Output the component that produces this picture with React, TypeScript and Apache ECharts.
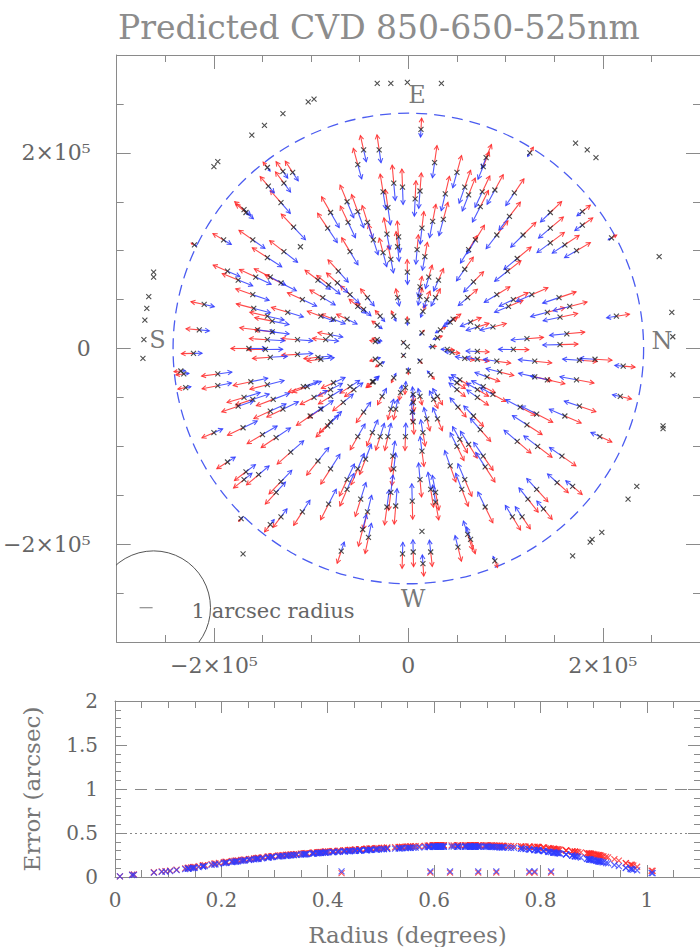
import React, { useEffect, useRef } from 'react';
import * as echarts from 'echarts';

// ---------- data (positions in units of 1000) ----------
const STAR_X_K = [
  -46,-30,-52,-145,-129,-119,-144,-128,-15,-26,-131,-63,-21,-169,-167,-80,-52,-118,-42,-62,-83,-190,-160,-22,-36,-11,-128,-60,-26,-145,-18,-72,-93,-186,-157,-175,-142,-131,-82,-160,-109,-60,-42,-210,-159,-145,-140,-124,-90,-77,-46,-32,-215,-140,-80,-15,-11,-220,
  -155,-145,-114,-34,-164,-147,-142,-114,-93,-221,-234,-231,-196,-229,-196,-162,-145,-108,-80,-60,-36,-169,-160,-139,-97,-80,-175,-142,-129,-101,-90,-46,-27,-200,-170,-150,-136,-121,-83,-52,-37,-21,-186,-167,-169,-154,-131,-136,-93,-80,-63,-52,-44,-16,-15,-142,-131,-109,-82,-63,-49,-42,-47,-41,-22,-172,-69,
  13,27,80,125,-6,12,7,38,50,58,62,77,76,74,89,109,25,36,14,-10,91,104,118,146,146,179,179,146,161,173,209,69,62,58,112,102,67,61,9,17,-1,21,31,12,28,91,108,127,155,166,214,103,143,156,43,71,87,-29,-1,
  163,156,122,108,176,192,221,173,143,130,94,130,91,71,58,45,218,176,161,132,115,87,77,71,53,50,51,30,14,-5,-5,12,23,0,-15,197,158,169,153,133,132,123,139,107,117,112,122,74,77,79,53,50,62,43,58,55,79,26,19,15,5,4,5,-13,-3,-3,14,12,-18,-13,4,23,28,28,51,61,64,-6,5,23,15,89,
  12,19,15,-52,-73,-88,-63,-32,-34,-29,-1,25,33,46,64,40,71,-37,-56,-77,-104,-90,-85,-8,12,30,50,71,81,67,30,5,-18,-67,-80,-29,
];
const STAR_Y_K = [
  203,203,188,185,181,180,166,169,169,160,149,150,144,142,139,139,140,124,129,129,123,111,111,117,111,104,99,99,98,93,91,79,70,79,73,70,73,67,65,55,50,55,52,45,41,33,28,37,33,30,40,24,19,17,14,33,52,106,
  19,9,9,7,0,-1,-9,-6,-9,-5,-23,-26,-26,-40,-38,-34,-37,-39,-42,-39,-34,-50,-52,-52,-50,-49,-59,-64,-62,-69,-62,-65,-49,-86,-81,-88,-91,-106,-79,-90,-86,-90,-116,-126,-134,-129,-136,-147,-115,-123,-134,-123,-113,-110,-123,-180,-172,-167,-159,-144,-154,-167,-185,-193,-162,-174,-207,
  224,190,195,200,165,161,153,158,180,165,157,186,160,145,162,159,130,132,123,114,116,135,116,139,123,140,126,108,106,100,113,111,101,81,92,79,68,52,101,94,78,73,70,53,52,55,50,55,52,43,33,43,37,32,27,22,22,33,28,
  15,4,10,-1,-12,-11,-18,-32,-32,-29,-24,-13,-13,-11,-10,-4,-49,-59,-69,-67,-60,-47,-39,-50,-32,-42,-60,11,16,6,-7,-13,-27,-23,-30,-90,-110,-141,-137,-100,-144,-154,-164,-172,-172,-95,-78,-83,-110,-121,-93,-100,-98,-120,-134,-144,-162,-52,-72,-86,-55,-65,-47,-62,-40,-90,-105,-134,-147,-161,-156,-144,-147,-157,-203,-190,-195,-210,-208,-208,-220,-217,
  63,50,38,43,67,52,30,9,-11,-16,2,2,19,30,27,-1,-3,-34,-42,-35,-39,-11,9,-45,-49,-49,-35,-42,-29,-69,-72,-75,-62,-55,-75,-90,
];
// stars whose vectors are too small to see
const QUIET_X_K = [-111, 14];
const QUIET_Y_K = [104, -187];
// stars outside the field (no vectors)
const OUTER_X_K = [-32,-18,-1,34,-103,-97,-129,-148,-161,-196,-200,-262,-262,-267,-269,-271,-272,-273,-170,172,184,193,258,271,272,272,262,262,235,226,199,187,189,169];
const OUTER_Y_K = [271,271,272,271,252,255,240,228,218,191,186,78,73,53,41,29,9,-10,-210,210,203,195,94,37,12,-27,-79,-82,-141,-154,-188,-198,-195,-212];

// error curve (arcsec vs degrees)
const ERR_R = [0, 0.05, 0.1, 0.15, 0.2, 0.3, 0.4, 0.5, 0.6, 0.7, 0.75, 0.8, 0.85, 0.9, 0.93, 0.97, 1.0, 1.03];
const ERR_RED = [0, 0.04, 0.07, 0.115, 0.165, 0.24, 0.29, 0.33, 0.36, 0.36, 0.35, 0.34, 0.30, 0.26, 0.22, 0.14, 0.08, 0.05];
const ERR_BLUE = [0, 0.035, 0.065, 0.105, 0.155, 0.23, 0.28, 0.315, 0.345, 0.345, 0.33, 0.30, 0.255, 0.19, 0.15, 0.09, 0.05, 0.035];

// isolated low-error points in the lower panel
const LOW_R = [0.426, 0.593, 0.63, 0.683, 0.717, 0.779, 0.789, 0.82];
const LOW_ERR_RED = [0.045, 0.05, 0.05, 0.05, 0.05, 0.05, 0.05, 0.05];
const LOW_ERR_BLUE = [0.065, 0.065, 0.065, 0.065, 0.065, 0.065, 0.065, 0.065];

const COMPASS = ['E', 'W', 'S', 'N'];
const COMPASS_X_K = [9, 5, -258, 261];
const COMPASS_Y_K = [259, -256, 9, 8];

const TOP_TICKS = [-200000, 0, 200000];
const BOT_X_TICKS = [0, 0.2, 0.4, 0.6, 0.8, 1];
const BOT_Y_TICKS = [0, 0.5, 1, 1.5, 2];

const K = 1000;
const DEG_UNITS = 242000;          // focal-plane units per degree
const ARROW_UNITS = 51300;         // vector scale, units per arcsec
const FIELD_RADIUS_DEG = 1;
const LEGEND_CENTER_K = [-262, -265];
const LEGEND_RADIUS_UNITS = 58500;

const RED = '#ff2a2a';
const BLUE = '#2f3cff';
const FRAME = '#8a8a8a';
const LABEL = '#666';
const FONT = '"DejaVu Serif", serif';

function lookup(r: number, ys: number[]) {
  if (r <= ERR_R[0]) return ys[0];
  for (let i = 1; i < ERR_R.length; i++) {
    if (r <= ERR_R[i]) {
      const t = (r - ERR_R[i - 1]) / (ERR_R[i] - ERR_R[i - 1]);
      return ys[i - 1] + t * (ys[i] - ys[i - 1]);
    }
  }
  return ys[ys.length - 1];
}

const CROSS = 'path://M0,0L10,10M10,0L0,10';

function arrowRenderer(color: string) {
  return (params: any, api: any) => {
    const p0 = api.coord([api.value(0), api.value(1)]);
    const p1 = api.coord([api.value(2), api.value(3)]);
    const dx = p1[0] - p0[0];
    const dy = p1[1] - p0[1];
    const len = Math.hypot(dx, dy);
    if (len < 0.8) return null;
    const ux = dx / len, uy = dy / len;
    const h = Math.min(4.2, len * 0.5);
    const w = h * 0.55;
    const a = [p1[0] - ux * h - uy * w, p1[1] - uy * h + ux * w];
    const b = [p1[0] - ux * h + uy * w, p1[1] - uy * h - ux * w];
    return {
      type: 'group',
      children: [
        { type: 'line', shape: { x1: p0[0], y1: p0[1], x2: p1[0], y2: p1[1] }, style: { stroke: color, lineWidth: 1.1, opacity: 0.85 } },
        { type: 'polyline', shape: { points: [a, p1, b] }, style: { stroke: color, fill: 'none', lineWidth: 1.1, opacity: 0.85 } },
      ],
    };
  };
}

function frameAxes(kind: 'x' | 'y', gridIndex: number, min: number, max: number, step: number, majors: number[],
  fmt: (v: number) => string, labelSize: number, margin: number, name?: string, nameGap?: number, majorLen = 14, minorLen = 7) {
  const primary = kind === 'x' ? 'bottom' : 'left';
  const opposite = kind === 'x' ? 'top' : 'right';
  const base = { type: 'value', gridIndex, min, max, interval: step, splitLine: { show: false }, scale: false };
  const minor = (position: string) => ({
    ...base, position,
    axisLine: { show: true, onZero: false, lineStyle: { color: FRAME, width: 1 } },
    axisTick: { show: true, inside: true, length: minorLen, lineStyle: { color: FRAME, width: 1 } },
    axisLabel: { show: false },
  });
  const major = (position: string, withLabels: boolean) => ({
    ...base, position,
    axisLine: { show: false, onZero: false },
    axisTick: { show: true, inside: true, length: majorLen, customValues: majors, lineStyle: { color: FRAME, width: 1 } },
    axisLabel: withLabels
      ? { show: true, customValues: majors, formatter: fmt, color: LABEL, fontFamily: FONT, fontSize: labelSize, margin }
      : { show: false },
    ...(withLabels && name ? {
      name, nameLocation: 'middle', nameGap,
      nameTextStyle: { color: '#777', fontFamily: FONT, fontSize: 23 },
    } : {}),
  });
  return [minor(primary), major(primary, true), minor(opposite), major(opposite, false)];
}

function topFmt(v: number) {
  if (v === 0) return '0';
  return (v < 0 ? '\u22122' : '2') + '\u00d710\u2075';
}

export default function App() {
  const ref = useRef<HTMLDivElement>(null);
  useEffect(() => {
    if (!ref.current) return;
    const chart = echarts.init(ref.current, undefined, { renderer: 'svg' });

    const redArrows: number[][] = [];
    const blueArrows: number[][] = [];
    const redErr: number[][] = [];
    const blueErr: number[][] = [];
    STAR_X_K.forEach((xk, i) => {
      const x = xk * K, y = STAR_Y_K[i] * K;
      const r = Math.hypot(x, y);
      const rdeg = r / DEG_UNITS;
      const eR = lookup(rdeg, ERR_RED);
      const eB = lookup(rdeg, ERR_BLUE);
      const ux = r > 0 ? x / r : 0, uy = r > 0 ? y / r : 0;
      redArrows.push([x, y, x + ux * eR * ARROW_UNITS, y + uy * eR * ARROW_UNITS]);
      blueArrows.push([x, y, x - ux * eB * ARROW_UNITS, y - uy * eB * ARROW_UNITS]);
      redErr.push([rdeg, eR]);
      blueErr.push([rdeg, eB]);
    });
    LOW_R.forEach((r, i) => {
      redErr.push([r, LOW_ERR_RED[i]]);
      blueErr.push([r, LOW_ERR_BLUE[i]]);
    });
    const starPts = STAR_X_K.map((x, i) => [x * K, STAR_Y_K[i] * K])
      .concat(QUIET_X_K.map((x, i) => [x * K, QUIET_Y_K[i] * K]))
      .concat(OUTER_X_K.map((x, i) => [x * K, OUTER_Y_K[i] * K]));

    const xTop = frameAxes('x', 0, -300000, 300000, 50000, TOP_TICKS, topFmt, 22, 12);
    const yTop = frameAxes('y', 0, -300000, 300000, 50000, TOP_TICKS, topFmt, 22, 26);
    const xBot = frameAxes('x', 1, 0, 1.1, 0.05, BOT_X_TICKS, (v) => String(v), 20, 13, 'Radius (degrees)', 46, 12, 7);
    const yBot = frameAxes('y', 1, 0, 2, 0.1, BOT_Y_TICKS, (v) => String(v), 20, 17, 'Error (arcsec)', 72, 12, 6);

    chart.setOption({
      animation: false,
      backgroundColor: '#fff',
      title: {
        text: 'Predicted CVD 850-650-525nm', left: 113, top: 6,
        textStyle: { color: '#8c8c8c', fontFamily: FONT, fontSize: 33, fontWeight: 'normal' },
      },
      grid: [
        { left: 115, top: 55, width: 586, height: 587 },
        { left: 115, top: 701, width: 591, height: 176 },
      ],
      xAxis: [...xTop, ...xBot],
      yAxis: [...yTop, ...yBot],
      series: [
        {
          type: 'custom', name: 'field', xAxisIndex: 0, yAxisIndex: 0, z: 1,
          data: [[0, 0]],
          renderItem: (params: any, api: any) => {
            const c = api.coord([api.value(0), api.value(1)]);
            const r = api.size([FIELD_RADIUS_DEG * DEG_UNITS, 0])[0];
            return { type: 'circle', shape: { cx: c[0], cy: c[1], r }, style: { fill: 'none', stroke: '#4b5cf0', lineWidth: 1.3, lineDash: [11, 7] } };
          },
        },
        {
          type: 'custom', name: 'legend', xAxisIndex: 0, yAxisIndex: 0, clip: true, z: 1,
          data: [[LEGEND_CENTER_K[0] * K, LEGEND_CENTER_K[1] * K]],
          renderItem: (params: any, api: any) => {
            const c = api.coord([api.value(0), api.value(1)]);
            const r = api.size([LEGEND_RADIUS_UNITS, 0])[0];
            return {
              type: 'group',
              children: [
                { type: 'circle', shape: { cx: c[0], cy: c[1], r }, style: { fill: 'none', stroke: '#555', lineWidth: 1 } },
                { type: 'line', shape: { x1: c[0] - 14, y1: c[1], x2: c[0] - 1, y2: c[1] }, style: { stroke: '#777', lineWidth: 1 } },
                { type: 'text', style: { x: c[0] + 38, y: c[1] + 3, text: '1 arcsec radius', fill: '#666', font: '21px "DejaVu Serif"', verticalAlign: 'middle', align: 'left' } },
              ],
            };
          },
        },
        { type: 'custom', name: '850nm', xAxisIndex: 0, yAxisIndex: 0, z: 2, data: redArrows, renderItem: arrowRenderer(RED) },
        { type: 'custom', name: '525nm', xAxisIndex: 0, yAxisIndex: 0, z: 3, data: blueArrows, renderItem: arrowRenderer(BLUE) },
        {
          type: 'scatter', name: 'stars', xAxisIndex: 0, yAxisIndex: 0, z: 4,
          symbol: CROSS, symbolSize: 5, data: starPts,
          itemStyle: { color: '#222', borderColor: '#222', borderWidth: 1.1 },
        },
        {
          type: 'scatter', name: 'compass', xAxisIndex: 0, yAxisIndex: 0, z: 5, symbolSize: 0,
          data: COMPASS.map((n, i) => ({ name: n, value: [COMPASS_X_K[i] * K, COMPASS_Y_K[i] * K] })),
          label: { show: true, position: 'inside', formatter: '{b}', color: '#555', fontFamily: FONT, fontSize: 24 },
          itemStyle: { color: 'transparent' },
        },
        {
          type: 'scatter', name: 'err850', xAxisIndex: 4, yAxisIndex: 4, z: 2,
          symbol: CROSS, symbolSize: 6, data: redErr,
          itemStyle: { color: RED, borderColor: RED, borderWidth: 1.1 },
        },
        {
          type: 'scatter', name: 'err525', xAxisIndex: 4, yAxisIndex: 4, z: 3,
          symbol: CROSS, symbolSize: 6, data: blueErr,
          itemStyle: { color: BLUE, borderColor: BLUE, borderWidth: 1.1 },
          markLine: {
            silent: true, symbol: 'none', label: { show: false },
            data: [
              { yAxis: 1, lineStyle: { color: '#888', type: [12, 8], width: 1 } },
              { yAxis: 0.5, lineStyle: { color: '#888', type: [2, 3], width: 1 } },
            ],
          },
        },
      ],
    });
    return () => chart.dispose();
  }, []);
  return <div ref={ref} style={{ position: 'fixed', left: 0, top: 0, width: 700, height: 947, background: '#fff' }} />;
}
